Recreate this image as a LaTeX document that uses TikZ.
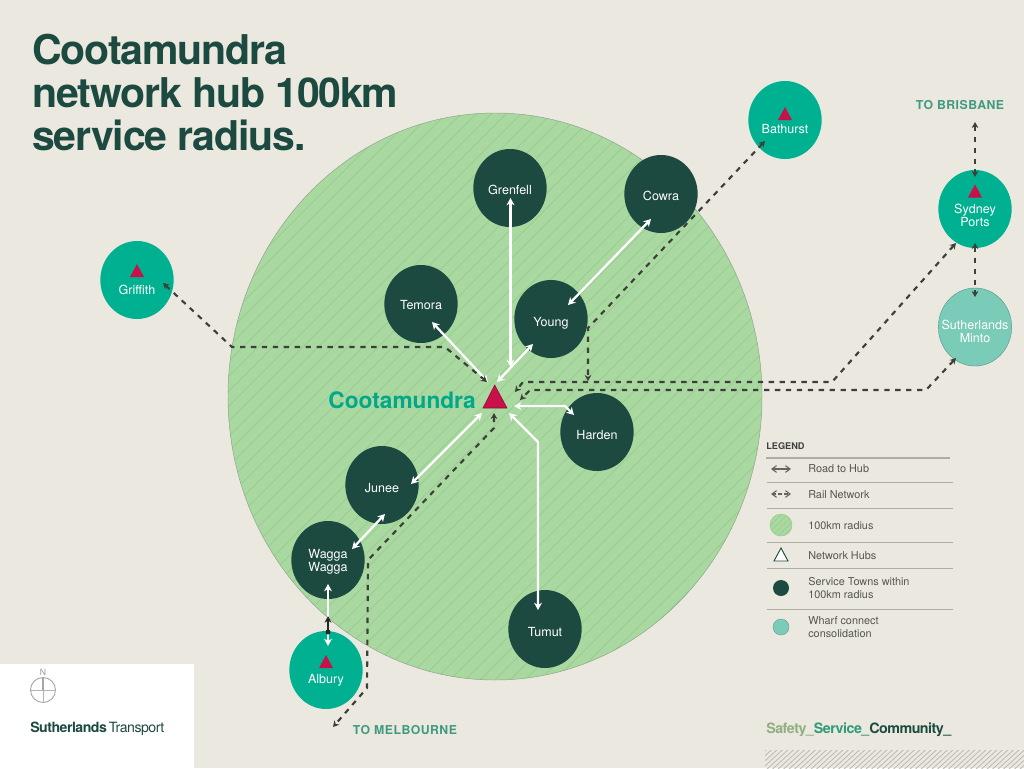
\documentclass[tikz,border=0pt]{standalone}
\usepackage{fontspec}
\setmainfont{TeX Gyre Heros}
\newfontfamily\tightfont[LetterSpace=-2.8]{TeX Gyre Heros}
\newfontfamily\logofont[LetterSpace=-3.5]{TeX Gyre Heros}
\newfontfamily\spacedfont[LetterSpace=4]{TeX Gyre Heros}
\usetikzlibrary{arrows.meta,shapes.geometric,calc}
\definecolor{bgc}{HTML}{EBE8DF}
\definecolor{zone}{HTML}{A9D8A0}
\definecolor{zoneh}{HTML}{9ACD92}
\definecolor{darkg}{HTML}{1C4A40}
\definecolor{teal}{HTML}{00B191}
\definecolor{lteal}{HTML}{7ACBB8}
\definecolor{hubred}{HTML}{C8104A}
\definecolor{railc}{HTML}{3D3F3A}
\definecolor{togreen}{HTML}{3F9A80}
\definecolor{legtxt}{HTML}{55574F}
\definecolor{legln}{HTML}{AEADA3}
\definecolor{safe}{HTML}{8FAF80}
\definecolor{serv}{HTML}{2E9A78}
\tikzset{
  x=0.75pt,y=-0.75pt,
  town/.style={ellipse,inner sep=0pt,minimum width=55pt,minimum height=58.5pt,fill=darkg},
  hubnode/.style={town,fill=teal},
  wharf/.style={town,fill=lteal,draw=teal!60!black!70,line width=0.3pt},
  lab/.style={text=white,font=\fontsize{9.4}{9.75}\selectfont,align=center,inner sep=0pt},
  road/.style={white,line width=1.7pt,{Stealth[length=5.5pt,width=6pt]}-{Stealth[length=5.5pt,width=6pt]}},
  rail/.style={railc,line width=1.6pt,dash pattern=on 4pt off 4.2pt,{Stealth[length=4.5pt,width=5pt]}-{Stealth[length=4.5pt,width=5pt]}},
  legt/.style={text=legtxt,font=\fontsize{8.15}{9.2}\selectfont,align=left,anchor=west,inner sep=0pt},
  legl/.style={legln,line width=0.7pt},
  tolabel/.style={text=togreen,font=\spacedfont\bfseries\fontsize{9.2}{11}\selectfont,inner sep=0pt},
}
\newcommand{\smalltri}[1]{\fill[hubred] ($(#1)+(0,-6.5)$) -- ($(#1)+(7,6.5)$) -- ($(#1)+(-7,6.5)$) -- cycle;}
\begin{document}
\begin{tikzpicture}
\useasboundingbox (0,0) rectangle (1024,768);
\fill[bgc] (0,0) rectangle (1024,768);
% white logo panel
\fill[white] (0,664) rectangle (194,768);
% bottom right hatch
\begin{scope}
\clip (765,750) rectangle (1024,768);
\foreach \i in {700,705.5,...,1050} \draw[legln!85,line width=0.6pt] (\i,770) -- (\i+24,748);
\end{scope}
% zone
\fill[zone] (495,396.5) ellipse [x radius=267,y radius=283.5];
\begin{scope}
\clip (495,396.5) ellipse [x radius=267,y radius=283.5];
\foreach \i in {-200,-185,...,800} \draw[zoneh,line width=0.6pt] (\i,700) -- (\i+600,100);
\end{scope}
\draw[zoneh!60!black!70,line width=0.35pt] (495,396.5) ellipse [x radius=267,y radius=283.5];
% title
\node[anchor=base west,inner sep=0pt,text=darkg,font=\tightfont\bfseries\fontsize{30.75}{32.25}\selectfont,align=left] (title) at (32,150) {Cootamundra\\network hub 100km\\service radius.};
% towns
\node[town] (grenfell) at (510,188) {};
\node[town] (cowra) at (661,194) {};
\node[town] (temora) at (421,304) {};
\node[town] (young) at (551,319) {};
\node[town] (harden) at (597,432) {};
\node[town] (junee) at (382,485) {};
\node[town] (wagga) at (328,560) {};
\node[town] (tumut) at (545,629) {};
\node[hubnode] (albury) at (326,670) {};
\node[hubnode] (griffith) at (137,280) {};
\node[hubnode] (bathurst) at (785,120) {};
\node[hubnode] (sydney) at (975,209) {};
\node[wharf] (minto) at (975,327) {};
% hub triangle and label
\coordinate (hub) at (495,396.5);
\fill[hubred,draw=hubred!70!black,line width=0.4pt] (494.7,385) -- (507,408) -- (483,408) -- cycle;
\node[anchor=base east,inner sep=0pt,text=teal!90!darkg,font=\bfseries\fontsize{17}{20}\selectfont] (cootalabel) at (476,408) {Cootamundra};
% small triangles
\coordinate (tAlbury) at (326,661.5);
\coordinate (tGriffith) at (137,270.5);
\coordinate (tBathurst) at (785,113.5);
\coordinate (tSydney) at (975,191);
\smalltri{tAlbury}\smalltri{tGriffith}\smalltri{tBathurst}\smalltri{tSydney}
% labels
\node[lab] (lGrenfell) at (510,189.5) {Grenfell};
\node[lab] (lCowra) at (661,196) {Cowra};
\node[lab] (lTemora) at (421,305) {Temora};
\node[lab] (lYoung) at (551,323) {Young};
\node[lab] (lHarden) at (597,435.5) {Harden};
\node[lab] (lJunee) at (382,488.5) {Junee};
\node[lab] (lWagga) at (328,561.5) {Wagga\\Wagga};
\node[lab] (lTumut) at (545,632) {Tumut};
\node[lab] (lAlbury) at (326,680.5) {Albury};
\node[lab] (lGriffith) at (137,290) {Griffith};
\node[lab] (lBathurst) at (785,129.5) {Bathurst};
\node[lab] (lSydney) at (975,215) {Sydney\\Ports};
\node[lab] (lMinto) at (975,331) {Sutherlands\\Minto};
\node[tolabel] (toBris) at (960,105) {TO BRISBANE};
\node[tolabel] (toMelb) at (405,730.5) {TO MELBOURNE};
% road ends
\coordinate (rGrenfell) at (510.5,198);
\coordinate (hGrenfell) at (510.5,367);
\coordinate (rCowra) at (651,219);
\coordinate (rCowraY) at (568,305);
\coordinate (rTemora) at (432,322);
\coordinate (hTemora) at (488,382);
\coordinate (rYoung) at (533,344);
\coordinate (hYoung) at (497,382);
\coordinate (rHarden) at (574,415);
\coordinate (cHarden) at (565,406);
\coordinate (hHarden) at (514,406);
\coordinate (rJunee) at (411,484);
\coordinate (hJunee) at (482,413);
\coordinate (rTumut) at (538,610);
\coordinate (cTumut) at (538,442);
\coordinate (hTumut) at (509,413);
\coordinate (rWJ) at (385,514);
\coordinate (rJW) at (352,549);
\coordinate (rWA) at (328,584);
\coordinate (rAW) at (328,646);
% roads
\draw[road] (rGrenfell) -- (hGrenfell);
\draw[road] (rCowra) -- (rCowraY);
\draw[road] (rTemora) -- (hTemora);
\draw[road] (rYoung) -- (hYoung);
\draw[road] (rHarden) -- (cHarden) -- (hHarden);
\draw[road] (rJunee) -- (hJunee);
\draw[road] (rTumut) -- (cTumut) -- (hTumut);
\draw[road] (rWJ) -- (rJW);
\draw[road] (rWA) -- (rAW);
\coordinate (bTop) at (328,616);
\coordinate (bBot) at (328,632);
\draw[black!85,line width=1.5pt,-{Stealth[length=5pt,width=5pt]}] (bBot) -- (bTop);
\fill[black!85] (bBot) circle (2.5);
% rail points
\coordinate (rGriffith) at (163,283);
\coordinate (c1) at (232,347);
\coordinate (c2) at (445,347);
\coordinate (hGriffith) at (487,382);
\coordinate (rBathurst) at (765,141);
\coordinate (c3) at (588,328);
\coordinate (hBathurst) at (588,381);
\coordinate (rSydney) at (956,243);
\coordinate (c4) at (832,382);
\coordinate (c5) at (523,382);
\coordinate (hSydney) at (515,392);
\coordinate (rMinto) at (956,358);
\coordinate (c6) at (926,390);
\coordinate (c7) at (530,390);
\coordinate (hMinto) at (520,400);
\coordinate (nBris) at (975,122);
\coordinate (sTop) at (975,177);
\coordinate (sBot) at (975,243);
\coordinate (mTop) at (975,297);
\coordinate (hMelb) at (494,413);
\coordinate (c8) at (494,428);
\coordinate (c9) at (368,560);
\coordinate (c10) at (367,688);
\coordinate (nMelb) at (333,727);
% rails
\draw[rail] (rGriffith) -- (c1) -- (c2) -- (hGriffith);
\draw[rail] (rBathurst) -- (c3) -- (hBathurst);
\draw[rail] (rSydney) -- (c4) -- (c5) -- (hSydney);
\draw[rail] (rMinto) -- (c6) -- (c7) -- (hMinto);
\draw[rail] (nBris) -- (sTop);
\draw[rail] (sBot) -- (mTop);
\draw[rail] (hMelb) -- (c8) -- (c9) -- (c10) -- (nMelb);
% compass
\coordinate (compass) at (43,690);
\draw[black!35,line width=0.7pt] (compass) circle (12.5);
\draw[black!30,line width=0.5pt] (30.5,690) -- (55.5,690);
\draw[black!30,line width=0.5pt] (43,690) -- (43,702.5);
\draw[black!35,line width=1.2pt] (43,677.5) -- (43,690);
\node[text=black!40,font=\fontsize{6.5}{7}\selectfont,inner sep=0pt] (north) at (43,672) {N};
\node[anchor=base west,inner sep=0pt,text=darkg,font=\logofont\fontsize{10.6}{12}\selectfont] (logo) at (30,732) {\textbf{Sutherlands}\,Transport};
% legend
\node[anchor=base west,inner sep=0pt,text=black!75,font=\bfseries\fontsize{6.9}{8}\selectfont] (legend) at (766,449) {LEGEND};
\draw[legln,line width=1.4pt] (766,458) -- (950,458);
\draw[legl] (767,482) -- (953,482);
\draw[legl] (767,508) -- (953,508);
\draw[legl] (767,542) -- (953,542);
\draw[legl] (767,568) -- (953,568);
\draw[legl] (767,609) -- (953,609);
\coordinate (la) at (771,469); \coordinate (lb) at (791,469);
\draw[railc!80,line width=0.8pt,{Straight Barb[length=3.5pt,width=5pt]}-{Straight Barb[length=3.5pt,width=5pt]}] (la) -- (lb);
\coordinate (lc) at (771,494); \coordinate (ld) at (791,494);
\draw[railc!80,line width=0.8pt,dash pattern=on 2.5pt off 2pt,{Straight Barb[length=3.5pt,width=5pt]}-{Straight Barb[length=3.5pt,width=5pt]}] (lc) -- (ld);
\coordinate (lzone) at (781,525);
\fill[zone] (lzone) circle (11);
\begin{scope}
\clip (lzone) circle (11);
\foreach \i in {750,756,...,800} \draw[zoneh,line width=0.5pt] (\i,540) -- (\i+30,510);
\end{scope}
\draw[zoneh,line width=0.4pt] (lzone) circle (11);
\draw[darkg,fill=white,line width=0.7pt] (781,548) -- (788,561) -- (774,561) -- cycle;
\fill[darkg] (781,588) circle (8);
\fill[lteal] (781,627) circle (8);
\draw[teal!50!black!60,line width=0.3pt] (781,627) circle (8);
\node[legt] (t1) at (808,469) {Road to Hub};
\node[legt] (t2) at (808,494.5) {Rail Network};
\node[legt] (t3) at (808,526) {100km radius};
\node[legt] (t4) at (808,555.5) {Network Hubs};
\node[legt] (t5) at (808,588) {Service Towns within\\100km radius};
\node[legt] (t6) at (808,627) {Wharf connect\\consolidation};
% tagline
\node[anchor=base west,inner sep=0pt,font=\logofont\bfseries\fontsize{10.7}{12}\selectfont] (tag) at (766,733) {\textcolor{safe}{Safety\_}\textcolor{serv}{Service\_}\textcolor{darkg}{Community\_}};
\end{tikzpicture}
\end{document}
